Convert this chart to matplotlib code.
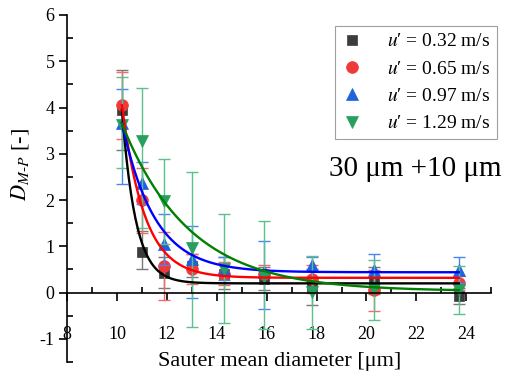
import matplotlib
matplotlib.use("Agg")
import matplotlib.pyplot as plt
import numpy as np
from matplotlib.lines import Line2D
from matplotlib.ticker import MultipleLocator

plt.rcParams['font.family'] = ['Liberation Serif', 'DejaVu Serif']
plt.rcParams['mathtext.fontset'] = 'stix'
plt.rcParams['axes.unicode_minus'] = False

# Sauter mean diameter [um]
d32 = [10.2, 11.0, 11.9, 13.0, 14.3, 15.9, 17.8, 20.3, 23.7]

# u' = 0.32 m/s
y_032 = [3.95, 0.87, 0.42, 0.58, 0.40, 0.30, 0.12, 0.26, -0.07]
lo_032 = [0.86, 0.36, 0.32, 0.25, 0.33, 0.25, 0.38, 0.30, 0.17]
hi_032 = [0.86, 0.46, 0.34, 0.25, 0.38, 0.25, 0.38, 0.30, 0.17]

# u' = 0.65 m/s
y_065 = [4.05, 2.00, 0.57, 0.51, 0.41, 0.40, 0.29, 0.05, 0.20]
lo_065 = [0.72, 0.72, 0.72, 0.32, 0.25, 0.20, 0.30, 0.44, 0.15]
hi_065 = [0.72, 0.70, 0.75, 0.32, 0.25, 0.20, 0.30, 0.44, 0.15]

# u' = 0.97 m/s
y_097 = [3.67, 2.37, 1.04, 0.72, 0.50, 0.45, 0.59, 0.48, 0.48]
lo_097 = [1.32, 0.46, 0.45, 0.83, 0.22, 0.81, 0.25, 0.36, 0.28]
hi_097 = [0.72, 0.46, 0.65, 0.72, 0.27, 0.67, 0.19, 0.36, 0.28]

# u' = 1.29 m/s
y_129 = [3.63, 3.27, 1.97, 0.97, 0.52, 0.36, 0.02, 0.08, 0.06]
lo_129 = [0.93, 1.88, 0.92, 1.71, 1.17, 1.15, 0.80, 0.68, 0.52]
hi_129 = [1.02, 1.16, 0.92, 1.64, 1.17, 1.19, 0.78, 0.63, 0.51]

# exponential decay fits: y0 + A*exp(-(x - 10.2)/t)
fit_y0 = [0.20, 0.32, 0.44, 0.03]
fit_A = [3.75, 3.73, 3.23, 3.62]
fit_t = [0.55, 0.90, 1.30, 2.70]

labels = ["0.32", "0.65", "0.97", "1.29"]
ys = [y_032, y_065, y_097, y_129]
los = [lo_032, lo_065, lo_097, lo_129]
his = [hi_032, hi_065, hi_097, hi_129]
markers = ['s', 'o', '^', 'v']
msizes = [7.5, 8.5, 9, 9]
mcolors = ['#3c3c3c', '#f03a3a', '#1f62dc', '#27a05e']
ecolors = ['#7a7a7a', '#f26a6a', '#4a86ec', '#5cc08c']
lcolors = ['#000000', '#ff0000', '#0000ff', '#008000']

fig = plt.figure(figsize=(5.08, 3.74), dpi=100)
ax = fig.add_axes([0.132, 0.032, 0.835, 0.928])

handles = []
for i in range(4):
    ax.errorbar(d32, ys[i], yerr=[los[i], his[i]], fmt='none',
                ecolor=ecolors[i], elinewidth=1.0, capsize=4.5, capthick=1.0,
                zorder=2 + i * 0.1)
    ax.plot(d32, ys[i], linestyle='none', marker=markers[i], ms=msizes[i],
            color=mcolors[i], mec=mcolors[i], mew=0.5, zorder=2.05 + i * 0.1)
    handles.append(Line2D([], [], linestyle='none', marker=markers[i],
                          ms=msizes[i], color=mcolors[i], mec=mcolors[i], mew=0.5,
                          label="$u$′ = " + labels[i] + " m/s"))

xf = np.linspace(10.2, 23.7, 300)
for i in range(4):
    ax.plot(xf, fit_y0[i] + fit_A[i] * np.exp(-(xf - 10.2) / fit_t[i]),
            color=lcolors[i], lw=1.7, zorder=3)

ax.set_xlim(8, 25)
ax.set_ylim(-1.5, 6)
ax.spines['top'].set_visible(False)
ax.spines['right'].set_visible(False)
ax.spines['bottom'].set_position(('data', 0))
ax.spines['left'].set_linewidth(1.2)
ax.spines['bottom'].set_linewidth(1.2)

ax.xaxis.set_major_locator(MultipleLocator(2))
ax.xaxis.set_minor_locator(MultipleLocator(1))
ax.yaxis.set_major_locator(MultipleLocator(1))
ax.yaxis.set_minor_locator(MultipleLocator(0.5))
ax.tick_params(which='major', direction='out', length=6, width=1.2, labelsize=13)
ax.tick_params(which='minor', direction='in', length=4, width=1.2)
ax.tick_params(axis='x', which='major', pad=18)
ax.tick_params(axis='y', which='major', pad=3)

ax.set_xlabel("Sauter mean diameter [μm]", fontsize=16)
ax.xaxis.set_label_coords(0.5, 0.03)
ax.set_ylabel(r"$D_{M\text{-}P}$ [-]", fontsize=16)
ax.yaxis.set_label_coords(-0.085, 0.57)

leg = ax.legend(handles=handles, loc='upper right', bbox_to_anchor=(1.014, 0.968),
                fontsize=14, handlelength=1.0, handletextpad=1.3, labelspacing=0.5,
                borderpad=0.35, borderaxespad=0, fancybox=False, framealpha=1,
                edgecolor='#a0a0a0')
leg.get_frame().set_linewidth(0.8)

ax.text(0.821, 0.556, "30 μm +10 μm", transform=ax.transAxes, fontsize=21,
        ha='center', va='center')

fig.savefig("out.png", dpi=100)
